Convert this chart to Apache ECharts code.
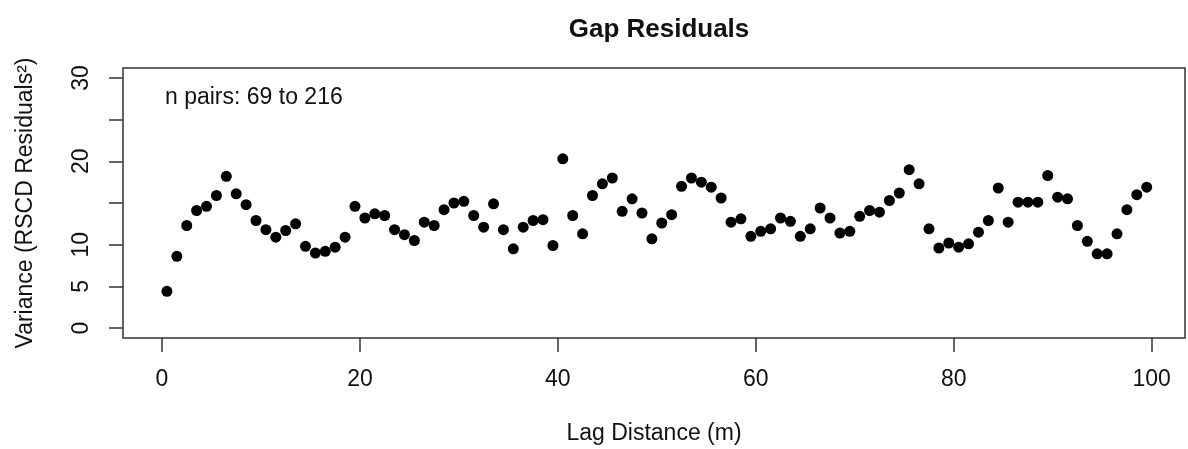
<!DOCTYPE html>
<html>
<head>
<meta charset="utf-8">
<script src="https://cdn.jsdelivr.net/npm/echarts@6/dist/echarts.min.js"></script>
<style>
  html, body { margin: 0; padding: 0; background: #fff; }
  #chart { width: 1188px; height: 449px; }
</style>
</head>
<body>
<div id="chart"></div>
<script>
// lag distance (m) of each point
var lags = [0.5, 1.5, 2.5, 3.5, 4.5, 5.5, 6.5, 7.5, 8.5, 9.5,
    10.5, 11.5, 12.5, 13.5, 14.5, 15.5, 16.5, 17.5, 18.5, 19.5,
    20.5, 21.5, 22.5, 23.5, 24.5, 25.5, 26.5, 27.5, 28.5, 29.5,
    30.5, 31.5, 32.5, 33.5, 34.5, 35.5, 36.5, 37.5, 38.5, 39.5,
    40.5, 41.5, 42.5, 43.5, 44.5, 45.5, 46.5, 47.5, 48.5, 49.5,
    50.5, 51.5, 52.5, 53.5, 54.5, 55.5, 56.5, 57.5, 58.5, 59.5,
    60.5, 61.5, 62.5, 63.5, 64.5, 65.5, 66.5, 67.5, 68.5, 69.5,
    70.5, 71.5, 72.5, 73.5, 74.5, 75.5, 76.5, 77.5, 78.5, 79.5,
    80.5, 81.5, 82.5, 83.5, 84.5, 85.5, 86.5, 87.5, 88.5, 89.5,
    90.5, 91.5, 92.5, 93.5, 94.5, 95.5, 96.5, 97.5, 98.5, 99.5];

// variance of residuals
var variance = [4.4, 8.6, 12.3, 14.1, 14.6, 15.9, 18.2, 16.1, 14.8, 12.9,
    11.8, 10.9, 11.7, 12.5, 9.8, 9.0, 9.2, 9.7, 10.9, 14.6,
    13.2, 13.7, 13.5, 11.8, 11.2, 10.5, 12.7, 12.3, 14.2, 15.0,
    15.2, 13.5, 12.1, 14.9, 11.8, 9.5, 12.1, 12.9, 13.0, 9.9,
    20.3, 13.5, 11.3, 15.9, 17.3, 18.0, 14.0, 15.5, 13.8, 10.7,
    12.6, 13.6, 17.0, 18.0, 17.5, 16.9, 15.6, 12.7, 13.1, 11.0,
    11.6, 11.9, 13.2, 12.8, 11.0, 11.9, 14.4, 13.2, 11.4, 11.6,
    13.4, 14.1, 13.9, 15.3, 16.2, 19.0, 17.3, 11.9, 9.6, 10.2,
    9.7, 10.1, 11.5, 12.9, 16.8, 12.7, 15.1, 15.1, 15.1, 18.3,
    15.7, 15.5, 12.3, 10.4, 8.9, 8.9, 11.3, 14.2, 16.0, 16.9];

var xTicks = [0, 20, 40, 60, 80, 100];
var yTicks = [0, 5, 10, 15, 20, 25, 30];
var yLabels = [0, 5, 10, 20, 30];

var points = lags.map(function (x, i) { return [x, variance[i]]; });

var font = 'Liberation Sans, Arial, sans-serif';
var ink = '#111';

var chart = echarts.init(document.getElementById('chart'));

var option = {
    backgroundColor: '#fff',
    animation: false,
    title: {
        text: 'Gap Residuals',
        left: 654,
        top: 12,
        textAlign: 'center',
        textStyle: {
            fontFamily: font,
            fontSize: 26,
            fontWeight: 'bold',
            color: ink
        }
    },
    grid: {
        left: 123,
        right: 3,
        top: 68,
        bottom: 111,
        show: true,
        borderColor: '#333',
        borderWidth: 1.5,
        containLabel: false,
        outerBoundsMode: 'none'
    },
    graphic: [{
        type: 'text',
        left: 165,
        top: 86,
        style: {
            text: 'n pairs: 69 to 216',
            font: '23px ' + font,
            fill: ink
        }
    }],
    xAxis: {
        type: 'value',
        min: -3.94,
        max: 103.37,
        name: 'Lag Distance (m)',
        nameLocation: 'middle',
        nameGap: 84,
        nameTextStyle: { fontFamily: font, fontSize: 23, color: ink },
        splitLine: { show: false },
        axisLine: { show: false, onZero: false },
        axisTick: {
            show: true,
            inside: false,
            length: 14,
            customValues: xTicks,
            lineStyle: { color: '#333', width: 1.5 }
        },
        axisLabel: {
            margin: 30,
            customValues: xTicks,
            fontFamily: font,
            fontSize: 23,
            color: ink
        }
    },
    yAxis: {
        type: 'value',
        min: -1.2,
        max: 31.2,
        name: 'Variance (RSCD Residuals²)',
        nameLocation: 'middle',
        nameGap: 86,
        nameTextStyle: { fontFamily: font, fontSize: 23, color: ink },
        splitLine: { show: false },
        axisLine: { show: false, onZero: false },
        axisTick: {
            show: true,
            inside: false,
            length: 14,
            customValues: yTicks,
            lineStyle: { color: '#333', width: 1.5 }
        },
        axisLabel: {
            rotate: 90,
            margin: 30,
            customValues: yLabels,
            fontFamily: font,
            fontSize: 23,
            color: ink
        }
    },
    series: [{
        type: 'scatter',
        symbol: 'circle',
        symbolSize: 11,
        itemStyle: { color: '#000', opacity: 1 },
        data: points
    }]
};

chart.setOption(option);
</script>
</body>
</html>
